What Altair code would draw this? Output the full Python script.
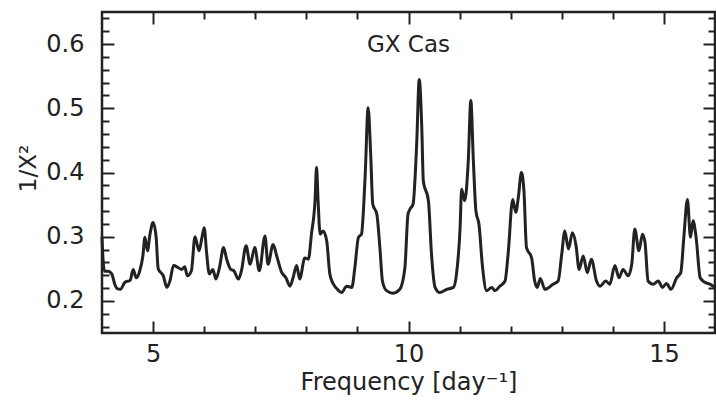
import altair as alt
import pandas as pd

# ---- data ----
freq = [4.00, 4.02, 4.05, 4.12, 4.19, 4.25, 4.30, 4.36, 4.45, 4.55, 4.61, 4.67, 4.74, 4.80,
        4.84, 4.89, 4.94, 5.00, 5.06, 5.10, 5.20, 5.27, 5.33, 5.40, 5.49, 5.56, 5.62, 5.67,
        5.75, 5.82, 5.90, 5.96, 6.00, 6.05, 6.10, 6.17, 6.23, 6.30, 6.38, 6.44, 6.52, 6.58,
        6.67, 6.73, 6.82, 6.90, 6.99, 7.08, 7.19, 7.25, 7.35, 7.42, 7.52, 7.60, 7.68, 7.74,
        7.81, 7.87, 7.97, 8.04, 8.10, 8.17, 8.20, 8.23, 8.27, 8.33, 8.40, 8.46, 8.53, 8.61,
        8.69, 8.79, 8.89, 8.95, 9.02, 9.08, 9.15, 9.21, 9.26, 9.30, 9.38, 9.44, 9.49, 9.57,
        9.70, 9.83, 9.93, 9.99, 10.03, 10.09, 10.16, 10.21, 10.26, 10.29, 10.39, 10.45,
        10.52, 10.61, 10.75, 10.88, 10.94, 11.01, 11.04, 11.10, 11.17, 11.22, 11.27, 11.32,
        11.38, 11.45, 11.53, 11.63, 11.69, 11.79, 11.89, 11.95, 12.04, 12.10, 12.15, 12.21,
        12.26, 12.31, 12.41, 12.47, 12.52, 12.58, 12.67, 12.83, 12.93, 13.00, 13.06, 13.13,
        13.21, 13.28, 13.34, 13.42, 13.50, 13.58, 13.68, 13.75, 13.86, 13.94, 14.04, 14.12,
        14.20, 14.30, 14.37, 14.43, 14.51, 14.58, 14.63, 14.69, 14.79, 14.89, 14.97, 15.05,
        15.14, 15.25, 15.33, 15.39, 15.46, 15.52, 15.57, 15.63, 15.71, 15.80, 15.90, 16.00]
power = [0.300, 0.265, 0.246, 0.246, 0.242, 0.226, 0.219, 0.218, 0.229, 0.232, 0.249, 0.236,
         0.247, 0.270, 0.299, 0.278, 0.304, 0.322, 0.299, 0.250, 0.239, 0.221, 0.231, 0.255,
         0.252, 0.249, 0.253, 0.239, 0.247, 0.300, 0.278, 0.300, 0.314, 0.273, 0.242, 0.249,
         0.234, 0.252, 0.283, 0.265, 0.249, 0.247, 0.234, 0.247, 0.286, 0.257, 0.283, 0.247,
         0.301, 0.257, 0.288, 0.270, 0.244, 0.236, 0.223, 0.236, 0.255, 0.234, 0.267, 0.265,
         0.304, 0.356, 0.408, 0.356, 0.304, 0.309, 0.293, 0.242, 0.226, 0.218, 0.213, 0.223,
         0.221, 0.252, 0.299, 0.304, 0.392, 0.501, 0.428, 0.351, 0.335, 0.283, 0.231, 0.216,
         0.212, 0.218, 0.252, 0.335, 0.343, 0.351, 0.444, 0.545, 0.470, 0.387, 0.356, 0.273,
         0.221, 0.213, 0.218, 0.221, 0.242, 0.314, 0.374, 0.356, 0.418, 0.512, 0.418, 0.340,
         0.319, 0.252, 0.216, 0.221, 0.216, 0.223, 0.231, 0.273, 0.358, 0.338, 0.361, 0.400,
         0.371, 0.283, 0.267, 0.231, 0.221, 0.235, 0.218, 0.226, 0.231, 0.273, 0.309, 0.281,
         0.306, 0.286, 0.249, 0.270, 0.244, 0.265, 0.231, 0.223, 0.231, 0.226, 0.255, 0.236,
         0.249, 0.239, 0.257, 0.312, 0.278, 0.304, 0.291, 0.231, 0.226, 0.231, 0.221, 0.227,
         0.218, 0.236, 0.244, 0.299, 0.358, 0.299, 0.325, 0.299, 0.236, 0.229, 0.226, 0.221]

x_major = [5, 10, 15]
x_minor = [6, 7, 8, 9, 11, 12, 13, 14]
y_major = [0.2, 0.3, 0.4, 0.5, 0.6]
y_minor = [0.16, 0.18, 0.22, 0.24, 0.26, 0.28, 0.32, 0.34, 0.36, 0.38,
           0.42, 0.44, 0.46, 0.48, 0.52, 0.54, 0.56, 0.58, 0.62, 0.64]

label_text = ["GX Cas"]
label_x = [10.0]
label_y = [0.587]

df = pd.DataFrame({"freq": freq, "power": power})
lab = pd.DataFrame({"x": label_x, "y": label_y, "t": label_text})

INK = "#222222"
FONT = "DejaVu Sans"
xs = alt.Scale(domain=[4, 16], nice=False, zero=False)
ys = alt.Scale(domain=[0.15, 0.65], nice=False, zero=False)


def ax(orient, values, size, **kw):
    return alt.Axis(orient=orient, values=values, tickSize=size, offset=-size,
                    domain=False, grid=False, tickColor=INK, tickWidth=2, **kw)


main = alt.Chart(df).mark_line(color=INK, strokeWidth=3, interpolate="monotone").encode(
    x=alt.X("freq:Q", scale=xs,
            title="Frequency [day⁻¹]",
            axis=ax("bottom", x_major, 12, labels=True, format="d",
                    labelFont=FONT, labelFontSize=24, labelColor=INK, labelPadding=9,
                    titleFont=FONT, titleFontSize=24, titleFontWeight="normal",
                    titleColor=INK, titleY=68, titleBaseline="alphabetic")),
    y=alt.Y("power:Q", scale=ys,
            title="1/X²",
            axis=ax("left", y_major, 12, labels=True, format=".1f",
                    labelFont=FONT, labelFontSize=24, labelColor=INK, labelPadding=18,
                    titleFont=FONT, titleFontSize=23, titleFontWeight="normal",
                    titleColor=INK, titleAngle=-90, titleX=-79, titleY=156,
                    titleBaseline="alphabetic", titleAlign="center")),
)


def tick_layer(xo, xv, xsz, yo, yv, ysz):
    return alt.Chart(df).mark_line(opacity=0).encode(
        x=alt.X("freq:Q", scale=xs, title=None, axis=ax(xo, xv, xsz, labels=False)),
        y=alt.Y("power:Q", scale=ys, title=None, axis=ax(yo, yv, ysz, labels=False)),
    )


minor_bl = tick_layer("bottom", x_minor, 7, "left", y_minor, 7)
major_tr = tick_layer("top", x_major, 12, "right", y_major, 12)
minor_tr = tick_layer("top", x_minor, 7, "right", y_minor, 7)

text = alt.Chart(lab).mark_text(font=FONT, fontSize=23, color=INK,
                                baseline="alphabetic", align="center").encode(
    x=alt.X("x:Q", scale=xs, axis=None),
    y=alt.Y("y:Q", scale=ys, axis=None),
    text="t:N",
)

chart = alt.layer(main, minor_bl, major_tr, minor_tr, text).resolve_axis(
    x="independent", y="independent"
).properties(
    width=613, height=321,
    autosize=alt.AutoSizeParams(type="none"),
    padding={"left": 102, "top": 12, "right": 1, "bottom": 69},
    background="white",
).configure_view(stroke=INK, strokeWidth=2.5)

chart.save("out.html", embed_options={"renderer": "svg", "actions": False})
